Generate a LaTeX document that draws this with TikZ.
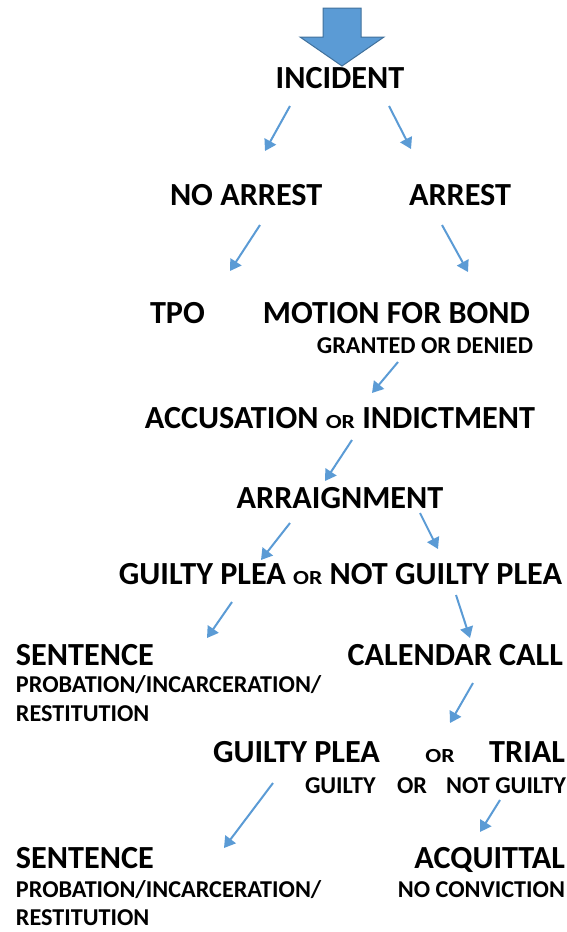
\documentclass[tikz,border=0pt]{standalone}
\usepackage{fontspec}
\setmainfont{Carlito}
\usetikzlibrary{arrows.meta}
\definecolor{arrblue}{HTML}{5B9BD5}
\definecolor{arredge}{HTML}{41719C}
\newcommand{\bigt}{\fontsize{32.2}{36}\selectfont\bfseries}
\newcommand{\subt}{\fontsize{24.2}{28}\selectfont\bfseries}
\newcommand{\ort}{\fontsize{20}{22}\selectfont\bfseries}
\newcommand{\orw}{\scalebox{1.18}[1]{\ort OR}}
\begin{document}
\begin{tikzpicture}[x=1pt,y=-1pt,
  lbl/.style={inner sep=0pt,outer sep=0pt,anchor=base west,font=\bigt},
  lblr/.style={inner sep=0pt,outer sep=0pt,anchor=base east,font=\bigt},
  lblc/.style={inner sep=0pt,outer sep=0pt,anchor=base,font=\bigt},
  sub/.style={inner sep=0pt,outer sep=0pt,anchor=base west,font=\subt},
  subr/.style={inner sep=0pt,outer sep=0pt,anchor=base east,font=\subt},
  flow/.style={draw=arrblue,line width=2pt,-{Triangle[length=11pt,width=13pt]}}]
\useasboundingbox (0,0) rectangle (567,932);
% big arrow
\draw[fill=arrblue,draw=arredge,line width=1pt]
  (323,8) -- (361,8) -- (361,37) -- (384,37) -- (342,66) -- (300,37) -- (323,37) -- cycle;
% texts
\node[lblc] (incident) at (340,88) {INCIDENT};
\node[lbl] (noarrest) at (170,205) {NO ARREST};
\node[lbl] (arrest) at (409,205) {ARREST};
\node[lbl] (tpo) at (150,323) {TPO};
\node[lblr] (motion) at (530,323) {MOTION FOR BOND};
\node[subr] (granted) at (533,353) {GRANTED OR DENIED};
\node[lblc] (accusation) at (340,428) {ACCUSATION \orw{} INDICTMENT};
\node[lblc] (arraign) at (340,508) {ARRAIGNMENT};
\node[lblc] (plea) at (340.5,584) {GUILTY PLEA \orw{} NOT GUILTY PLEA};
\node[lbl] (sentence1) at (16,665) {SENTENCE};
\node[sub] (prob1) at (16,692) {PROBATION/INCARCERATION/};
\node[sub] (rest1) at (16,721) {RESTITUTION};
\node[lblr] (calendar) at (563,665) {CALENDAR CALL};
\node[lbl] (gplea) at (213,762) {GUILTY PLEA};
\node[inner sep=0pt,anchor=base] (or3) at (440,762) {\orw};
\node[lblr] (trial) at (565,762) {TRIAL};
\node[sub] (guilty) at (305,793) {GUILTY};
\node[sub] (or4) at (397,793) {OR};
\node[subr] (notguilty) at (566,793) {NOT GUILTY};
\node[lbl] (sentence2) at (16,868) {SENTENCE};
\node[sub] (prob2) at (16,897) {PROBATION/INCARCERATION/};
\node[sub] (rest2) at (16,925) {RESTITUTION};
\node[lblr] (acquittal) at (565,868) {ACQUITTAL};
\node[subr] (noconv) at (565,897) {NO CONVICTION};
% arrow end points
\coordinate (a1s) at (290,106); \coordinate (a1e) at (265,151);
\coordinate (a2s) at (389,106); \coordinate (a2e) at (411,149);
\coordinate (a3s) at (260,225); \coordinate (a3e) at (230,271);
\coordinate (a4s) at (442,225); \coordinate (a4e) at (468,272);
\coordinate (a5s) at (398,362); \coordinate (a5e) at (372,393);
\coordinate (a6s) at (352,440); \coordinate (a6e) at (325,481);
\coordinate (a7s) at (290,523); \coordinate (a7e) at (261,560);
\coordinate (a8s) at (420,513); \coordinate (a8e) at (438,549);
\coordinate (a9s) at (232,602); \coordinate (a9e) at (207,638);
\coordinate (a10s) at (456,595); \coordinate (a10e) at (470,638);
\coordinate (a11s) at (473,683); \coordinate (a11e) at (450,723);
\coordinate (a12s) at (273,783); \coordinate (a12e) at (224,848);
\coordinate (a13s) at (500,800); \coordinate (a13e) at (480,832);
\foreach \i in {1,...,13} \draw[flow] (a\i s) -- (a\i e);
\end{tikzpicture}
\end{document}
